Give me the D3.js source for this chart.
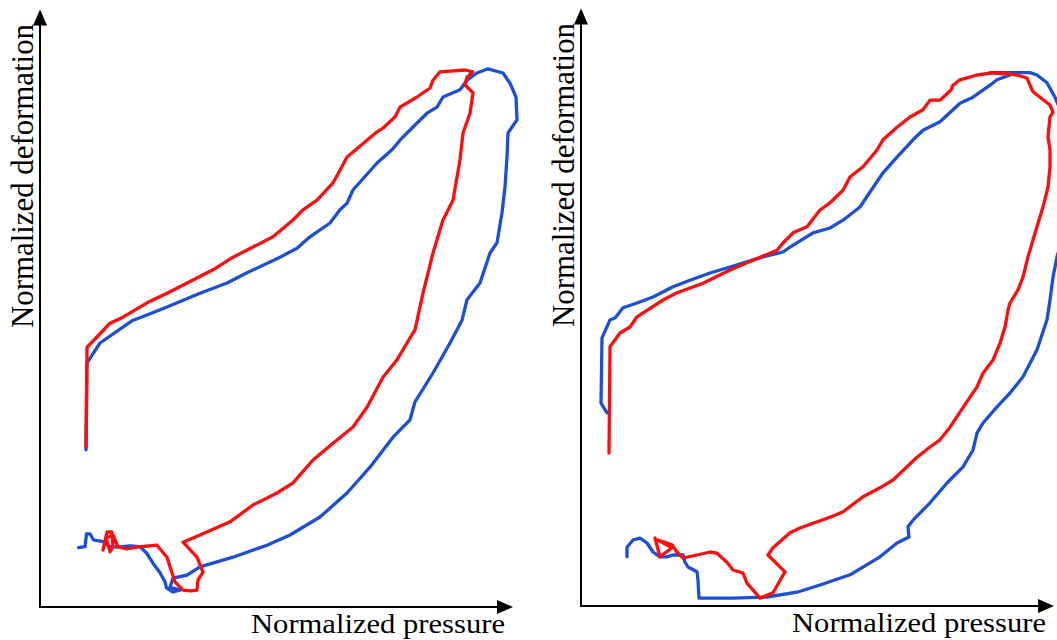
<!DOCTYPE html>
<html>
<head>
<meta charset="utf-8">
<script src="https://cdn.jsdelivr.net/npm/d3@7"></script>
<style>
  html, body { margin: 0; padding: 0; background: #fff; }
  svg { display: block; }
  .curve { fill: none; stroke-width: 3.3; stroke-linejoin: round; stroke-linecap: round; }
  .axis-label { font-family: "Liberation Serif", "Times New Roman", Times, serif; fill: #000; }
</style>
</head>
<body>
<svg id="chart" width="1057" height="640"></svg>
<script>
// --- data: [normalized pressure, normalized deformation], 0..100 ---
const leftBlue = [
  [7.7, 9.9], [9.0, 10.05], [9.3, 12.2], [10.0, 12.2], [10.7, 11.2], [12.6, 10.9], [14.0, 10.05],
  [16.0, 10.0], [18.0, 10.2], [20.0, 10.05], [21.3, 9.0], [22.6, 7.3], [24.0, 5.7], [25.0, 4.2],
  [25.3, 3.2], [26.6, 2.5], [28.0, 2.8], [26.0, 3.3], [26.6, 4.8], [29.4, 5.3], [32.0, 6.7],
  [38.6, 8.3], [45.4, 10.3], [50.0, 12.0], [56.0, 15.0], [61.4, 19.0], [66.0, 23.3], [70.6, 28.3],
  [74.0, 31.2], [75.0, 34.2], [78.6, 39.0], [82.0, 44.0], [84.4, 47.8], [85.4, 51.2], [88.0, 54.0],
  [90.0, 59.0], [91.4, 60.7], [92.4, 65.7], [93.0, 70.0], [93.4, 75.0], [93.6, 79.0], [95.4, 81.2],
  [95.2, 85.0], [94.0, 87.3], [92.6, 89.0], [89.6, 89.7], [87.4, 89.0], [85.4, 87.8], [84.0, 86.2],
  [80.6, 85.0], [79.4, 83.3], [77.4, 82.3], [74.6, 80.0], [72.0, 77.8], [70.4, 76.2], [67.4, 74.0],
  [62.6, 69.5], [61.4, 67.3], [60.0, 66.2], [58.0, 64.0], [54.0, 61.7], [51.4, 59.8], [48.0, 58.3],
  [41.4, 55.7], [37.4, 54.0], [32.0, 52.3], [25.4, 50.0], [20.0, 48.2], [18.6, 47.8], [12.0, 44.0],
  [9.4, 40.7], [9.2, 26.2]
];

const leftRed = [
  [12.6, 9.5], [13.4, 12.5], [14.4, 12.5], [14.6, 10.0], [14.0, 9.2], [13.2, 11.5], [14.6, 12.0],
  [15.6, 10.0], [17.4, 9.7], [19.4, 10.0], [23.4, 10.3], [25.4, 8.3], [26.0, 6.7], [27.0, 4.2],
  [28.6, 2.8], [30.2, 2.7], [31.4, 2.8], [31.6, 4.5], [32.6, 5.8], [31.4, 8.3], [28.6, 10.8],
  [32.0, 12.0], [38.0, 14.2], [42.6, 17.0], [47.4, 19.0], [50.6, 20.7], [54.6, 24.5], [58.6, 27.3],
  [62.6, 30.0], [65.4, 33.3], [68.6, 38.3], [71.4, 41.2], [73.4, 44.0], [75.0, 46.2], [76.6, 52.3],
  [78.6, 59.0], [80.6, 64.5], [82.6, 67.8], [84.0, 74.5], [84.6, 79.0], [86.0, 82.3], [86.6, 85.7],
  [85.0, 87.0], [85.4, 88.3], [86.6, 89.2], [85.0, 89.5], [80.0, 89.2], [78.6, 87.8], [78.0, 86.5],
  [75.4, 85.0], [72.0, 83.3], [71.0, 81.7], [68.6, 79.8], [67.4, 79.2], [65.4, 77.8], [61.4, 75.0],
  [60.0, 72.8], [58.6, 70.7], [55.4, 67.8], [52.6, 66.2], [50.6, 64.5], [46.6, 61.7], [42.6, 60.0],
  [38.6, 58.3], [34.6, 56.2], [30.6, 54.5], [25.4, 52.3], [21.4, 50.7], [16.6, 48.3], [14.0, 47.3],
  [11.4, 45.0], [9.4, 43.3], [9.2, 26.7]
];

const rightBlue = [
  [9.2, 8.2], [9.2, 9.8], [10.4, 11.0], [11.8, 11.3], [13.2, 10.5], [14.4, 9.0], [15.8, 8.2],
  [17.2, 8.2], [18.4, 8.5], [20.4, 8.5], [20.8, 7.3], [21.4, 6.5], [23.2, 5.7], [23.4, 4.3],
  [23.6, 1.3], [30.4, 1.3], [37.2, 1.5], [43.2, 2.3], [47.8, 3.5], [53.8, 5.2], [59.8, 8.2],
  [63.2, 10.5], [65.6, 11.5], [65.4, 13.2], [66.4, 14.3], [69.8, 17.2], [73.2, 20.5], [76.4, 23.2],
  [78.4, 26.0], [79.2, 28.8], [80.4, 30.5], [83.2, 33.2], [85.8, 35.5], [88.4, 38.2], [91.2, 42.7],
  [93.2, 47.7], [93.8, 51.0], [94.4, 54.8], [95.2, 58.2], [97.4, 64.3], [98.2, 72.7], [97.6, 79.3],
  [95.4, 83.6], [94.8, 84.8], [93.2, 87.2], [91.2, 88.5], [89.8, 88.9], [81.8, 88.9], [85.4, 88.6],
  [85.8, 88.5], [83.2, 87.7], [81.8, 86.8], [78.4, 84.8], [75.8, 83.8], [71.8, 80.7], [68.4, 79.3],
  [66.4, 77.7], [63.2, 74.8], [60.4, 72.2], [57.8, 69.0], [55.8, 66.5], [52.4, 64.3], [49.8, 63.0],
  [46.4, 62.2], [41.8, 59.8], [40.4, 59.0], [36.4, 58.2], [29.8, 56.5], [25.8, 55.5], [21.8, 54.3],
  [18.4, 53.2], [14.4, 51.5], [11.2, 50.5], [8.4, 49.7], [6.8, 48.0], [5.8, 47.7], [4.2, 44.7],
  [4.0, 33.8], [5.2, 32.2]
];

const rightRed = [
  [14.8, 11.3], [15.8, 8.2], [18.2, 9.7], [15.4, 11.0], [18.2, 10.2], [19.2, 9.0], [20.4, 8.0],
  [23.2, 8.5], [25.8, 9.0], [27.2, 8.8], [29.2, 7.3], [30.4, 6.0], [32.4, 5.5], [33.2, 3.8],
  [35.8, 1.3], [38.4, 2.2], [40.8, 5.7], [37.4, 8.5], [38.4, 9.7], [41.8, 12.2], [43.8, 13.0],
  [46.4, 13.8], [49.8, 14.8], [52.4, 15.7], [56.4, 18.2], [59.8, 19.7], [62.4, 21.0], [65.2, 23.2],
  [67.2, 24.8], [69.8, 26.5], [71.8, 27.7], [73.8, 29.8], [75.8, 32.3], [77.4, 34.3], [79.2, 36.5],
  [80.4, 38.8], [82.4, 41.0], [83.8, 43.8], [84.8, 46.5], [85.4, 49.3], [85.8, 50.5], [87.4, 52.7],
  [88.4, 54.8], [89.4, 58.2], [90.4, 61.0], [91.4, 63.8], [92.4, 66.5], [93.4, 69.8], [93.8, 73.2],
  [93.8, 76.0], [93.4, 78.2], [93.8, 81.5], [94.4, 82.3], [93.8, 83.5], [91.8, 84.8], [90.4, 85.7],
  [89.8, 86.8], [89.2, 88.0], [87.2, 88.5], [83.8, 88.8], [81.8, 88.8], [79.2, 88.5], [75.8, 87.7],
  [74.4, 86.8], [74.0, 86.0], [71.8, 84.3], [69.8, 84.3], [68.4, 82.7], [65.8, 81.5], [63.2, 79.8],
  [60.4, 77.7], [59.2, 76.0], [56.4, 73.2], [53.8, 71.5], [52.4, 69.3], [49.8, 67.2], [47.8, 66.0],
  [45.2, 63.2], [42.4, 62.2], [40.4, 60.5], [39.2, 59.3], [33.2, 57.2], [29.8, 56.0], [24.4, 53.8],
  [19.2, 52.2], [16.4, 51.0], [11.2, 48.2], [9.8, 46.5], [7.8, 45.5], [5.8, 43.2], [5.6, 25.5]
];

const xLabel = "Normalized pressure";
const yLabel = "Normalized deformation";
const seriesColors = { blue: "#1c4fd8", red: "#ff0d0d" };

// --- panels ---
const panels = [
  { x0: 40, y0: 607, blue: leftBlue, red: leftRed },
  { x0: 581, y0: 606, blue: rightBlue, red: rightRed }
];

const svg = d3.select("#chart");
const xAxisEnd = 94.6;
const yAxisEnd = 99.6;

panels.forEach(p => {
  const x = d3.scaleLinear().domain([0, 100]).range([p.x0, p.x0 + 500]);
  const y = d3.scaleLinear().domain([0, 100]).range([p.y0, p.y0 - 600]);
  const g = svg.append("g");

  // curves (red drawn on top)
  const line = d3.line().x(d => x(d[0])).y(d => y(d[1]));
  g.append("path").attr("class", "curve").attr("stroke", seriesColors.blue).attr("d", line(p.blue));
  g.append("path").attr("class", "curve").attr("stroke", seriesColors.red).attr("d", line(p.red));

  // axes with arrow heads
  const ox = x(0), oy = y(0), xt = x(xAxisEnd), yt = y(yAxisEnd);
  g.append("line").attr("x1", ox).attr("y1", oy).attr("x2", xt - 10).attr("y2", oy)
    .attr("stroke", "#000").attr("stroke-width", 2);
  g.append("line").attr("x1", ox).attr("y1", oy + 1).attr("x2", ox).attr("y2", yt + 10)
    .attr("stroke", "#000").attr("stroke-width", 2);
  g.append("path").attr("fill", "#000")
    .attr("d", `M${xt},${oy} L${xt - 16},${oy - 7} L${xt - 16},${oy + 7} Z`);
  g.append("path").attr("fill", "#000")
    .attr("d", `M${ox},${yt} L${ox - 7},${yt + 16} L${ox + 7},${yt + 16} Z`);

  // labels
  g.append("text").attr("class", "axis-label")
    .attr("x", xt - 8).attr("y", oy + 26)
    .attr("text-anchor", "end")
    .attr("font-size", 28)
    .attr("textLength", 254).attr("lengthAdjust", "spacingAndGlyphs")
    .text(xLabel);

  g.append("text").attr("class", "axis-label")
    .attr("transform", `translate(${ox - 7},${y(46.5)}) rotate(-90)`)
    .attr("font-size", 31)
    .attr("textLength", 304).attr("lengthAdjust", "spacingAndGlyphs")
    .text(yLabel);
});
</script>
</body>
</html>
